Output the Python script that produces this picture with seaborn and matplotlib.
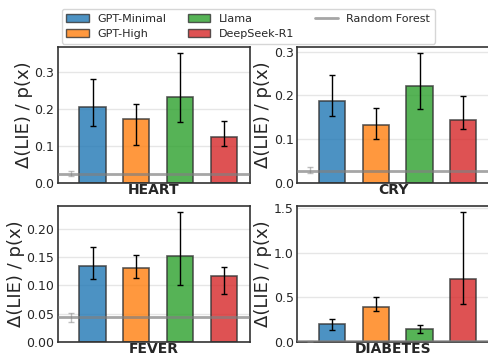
import numpy as np
import pandas as pd
import matplotlib
matplotlib.use("Agg")
import matplotlib.pyplot as plt
import seaborn as sns
from matplotlib.patches import Patch
from matplotlib.lines import Line2D

sns.set_style("whitegrid")
plt.rcParams['font.family'] = ['DejaVu Sans']

models = ["GPT-Minimal", "GPT-High", "Llama", "DeepSeek-R1"]
colors = ["tab:blue", "tab:orange", "tab:green", "tab:red"]
datasets = ["HEART", "CRY", "FEVER", "DIABETES"]

# bar value, lower err end, upper err end per dataset
heart_val = [0.206, 0.173, 0.232, 0.125]
heart_lo = [0.154, 0.102, 0.164, 0.100]
heart_hi = [0.279, 0.212, 0.349, 0.166]

cry_val = [0.187, 0.132, 0.222, 0.144]
cry_lo = [0.152, 0.101, 0.169, 0.124]
cry_hi = [0.247, 0.171, 0.296, 0.198]

fever_val = [0.135, 0.131, 0.152, 0.116]
fever_lo = [0.112, 0.113, 0.100, 0.084]
fever_hi = [0.168, 0.153, 0.229, 0.132]

diab_val = [0.201, 0.396, 0.146, 0.705]
diab_lo = [0.131, 0.347, 0.097, 0.429]
diab_hi = [0.254, 0.504, 0.187, 1.450]

# random forest baseline: value, low, high
rf_val = [0.025, 0.027, 0.044, 0.006]
rf_lo = [0.020, 0.023, 0.036, 0.003]
rf_hi = [0.031, 0.037, 0.051, 0.009]

vals = [heart_val, cry_val, fever_val, diab_val]
los = [heart_lo, cry_lo, fever_lo, diab_lo]
his = [heart_hi, cry_hi, fever_hi, diab_hi]

fig = plt.figure(figsize=(4.88, 3.56), dpi=100)
positions = [
    [0.118, 0.486, 0.394, 0.382],
    [0.609, 0.486, 0.394, 0.382],
    [0.118, 0.0395, 0.394, 0.382],
    [0.609, 0.0395, 0.394, 0.382],
]

for i, name in enumerate(datasets):
    ax = fig.add_axes(positions[i])
    v = np.array(vals[i])
    lo = np.array(los[i])
    hi = np.array(his[i])
    df = pd.DataFrame({"model": models, "value": v})
    sns.barplot(data=df, x="model", y="value", hue="model", palette=colors,
                saturation=1, alpha=0.8, width=0.6, edgecolor="#333333",
                linewidth=1.2, legend=False, ax=ax, zorder=2)
    ax.errorbar(np.arange(4), v, yerr=[v - lo, hi - v], fmt="none",
                ecolor="black", elinewidth=1, capsize=2.5, capthick=1, zorder=3)

    ax.axhline(rf_val[i], color="gray", alpha=0.7, lw=2, zorder=4)
    ax.errorbar([-0.5], [rf_val[i]], yerr=[[rf_val[i] - rf_lo[i]], [rf_hi[i] - rf_val[i]]],
                fmt="none", ecolor="gray", alpha=0.5, elinewidth=1, capsize=2.5, zorder=3)

    ax.set_xlim(-0.8, 3.6)
    ax.set_ylim(0, hi.max() * 1.05)
    ax.set_xticks([])
    ax.set_xlabel(name, fontsize=10, fontweight="bold", labelpad=0)
    ax.set_ylabel("Δ(LIE) / p(x)", fontsize=13, labelpad=1)
    ax.tick_params(axis="y", labelsize=9, length=0, pad=2.5)
    ax.grid(axis="y", color="#e6e6e6", lw=1)
    ax.grid(axis="x", visible=False)
    ax.set_axisbelow(True)
    for s in ax.spines.values():
        s.set_color("#333333")
        s.set_linewidth(1.2)

ax_list = fig.axes
ax_list[2].yaxis.set_major_locator(matplotlib.ticker.MultipleLocator(0.05))
ax_list[2].yaxis.set_major_formatter(matplotlib.ticker.FormatStrFormatter("%.2f"))

handles = [Patch(facecolor=c, edgecolor="#333333", alpha=0.8) for c in colors]
handles.append(Line2D([0], [0], color="gray", alpha=0.7, lw=2))
labels = models + ["Random Forest"]
fig.legend(handles, labels, ncol=3, loc="upper center", bbox_to_anchor=(0.509, 0.99),
           fontsize=8, frameon=True, columnspacing=1.9, handlelength=2.0)

fig.savefig("out.png", dpi=100)
